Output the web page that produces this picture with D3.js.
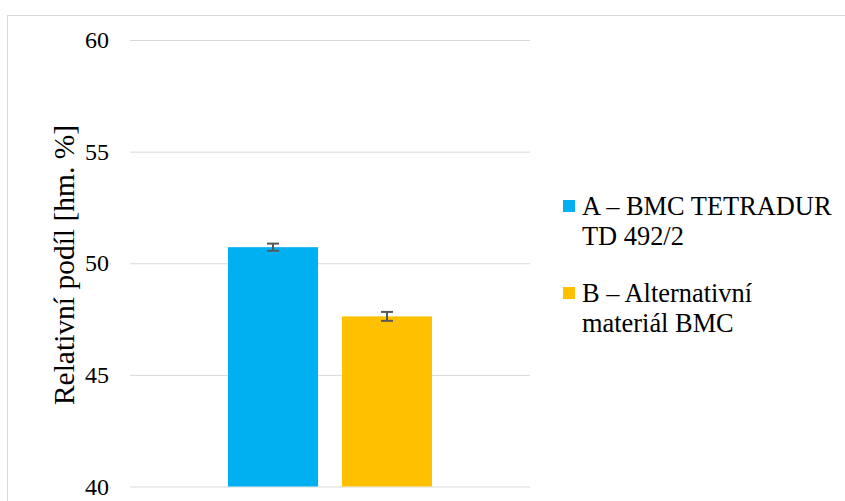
<!DOCTYPE html>
<html><head><meta charset="utf-8">
<script src="https://cdn.jsdelivr.net/npm/d3@7"></script>
<style>body{margin:0;background:#fff}svg{display:block}
text{font-family:"Liberation Serif","Times New Roman",Times,serif}</style>
</head><body>
<svg id="c" width="845" height="501"></svg>
<script>
const seriesNames = ["A – BMC TETRADUR TD 492/2", "B – Alternativní materiál BMC"];
const legendLines = [["A – BMC TETRADUR", "TD 492/2"], ["B – Alternativní", "materiál BMC"]];
const seriesValues = [50.72, 47.62];
const seriesErrors = [0.16, 0.2];
const seriesColors = ["#00B0F0", "#FFC000"];
const yTicks = [40, 45, 50, 55, 60];
const yTitle = "Relativní podíl [hm. %]";

const svg = d3.select("#c");

svg.append("rect").attr("x", 7.5).attr("y", 15.5).attr("width", 900).attr("height", 600)
  .attr("fill", "#fff").attr("stroke", "#d9d9d9").attr("stroke-width", 1);

const plotL = 130, plotR = 530;
const y = d3.scaleLinear().domain([40, 60]).range([486.5, 40]);
const x = d3.scaleBand().domain(seriesNames).range([plotL, plotR]).paddingInner(0.21).paddingOuter(0.86);

const yAxis = d3.axisLeft(y).tickValues(yTicks).tickSize(-(plotR - plotL)).tickPadding(21);
const ga = svg.append("g").attr("transform", `translate(${plotL},0)`).call(yAxis);
ga.attr("font-family", null);
ga.select(".domain").remove();
ga.selectAll(".tick line").attr("stroke", "#d9d9d9").attr("stroke-width", 1);
ga.selectAll(".tick text").attr("font-size", 24).attr("fill", "#000");

const data = seriesNames.map((n, i) => ({n, v: seriesValues[i], e: seriesErrors[i], c: seriesColors[i]}));

svg.append("g").selectAll("rect").data(data).join("rect")
  .attr("x", d => x(d.n)).attr("width", x.bandwidth())
  .attr("y", d => y(d.v)).attr("height", d => y(40) - y(d.v))
  .attr("fill", d => d.c);

const eg = svg.append("g").attr("stroke", "#595959").attr("stroke-width", 2);
data.forEach(d => {
  const cx = x(d.n) + x.bandwidth() / 2;
  eg.append("line").attr("x1", cx).attr("x2", cx).attr("y1", y(d.v + d.e)).attr("y2", y(d.v - d.e));
  eg.append("line").attr("x1", cx - 6).attr("x2", cx + 6).attr("y1", y(d.v + d.e)).attr("y2", y(d.v + d.e));
  eg.append("line").attr("x1", cx - 6).attr("x2", cx + 6).attr("y1", y(d.v - d.e)).attr("y2", y(d.v - d.e));
});

svg.append("text").attr("transform", "translate(74,265) rotate(-90)")
  .attr("text-anchor", "middle").attr("font-size", 29.5).attr("fill", "#000")
  .text(yTitle);

const lg = svg.append("g");
const legY = [215, 302];
legendLines.forEach((lines, i) => {
  lg.append("rect").attr("x", 563).attr("y", legY[i] - 15).attr("width", 12).attr("height", 12).attr("fill", seriesColors[i]);
  const t = lg.append("text").attr("font-size", 26.4).attr("fill", "#000");
  lines.forEach((l, j) => t.append("tspan").attr("x", 582).attr("y", legY[i] + j * 29.5).text(l));
});
</script>
</body></html>
